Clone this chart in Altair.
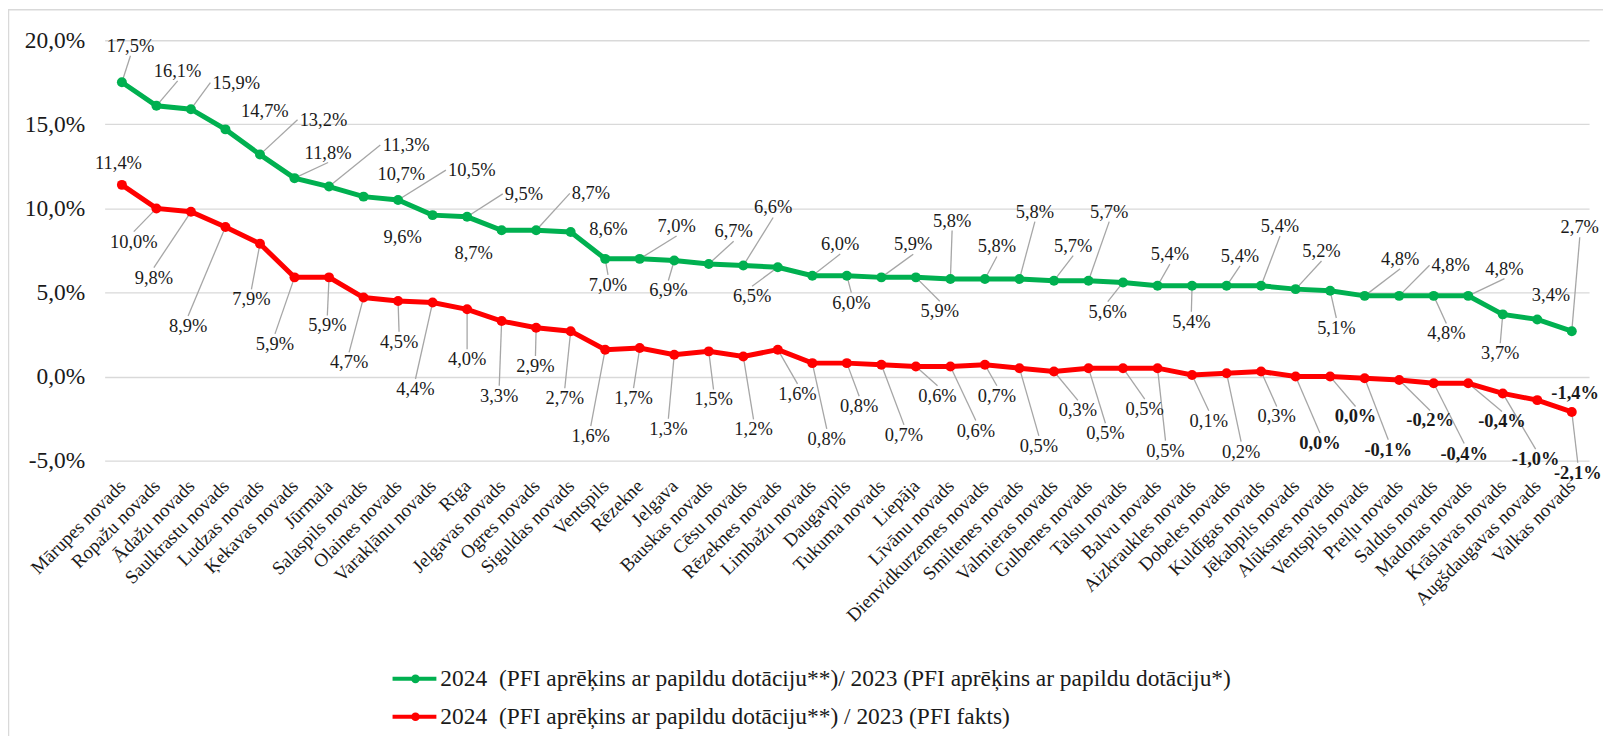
import json
import altair as alt
import pandas as pd

# ---------------- data ----------------
categories = [
    "Mārupes novads", "Ropažu novads", "Ādažu novads", "Saulkrastu novads", "Ludzas novads",
    "Ķekavas novads", "Jūrmala", "Salaspils novads", "Olaines novads", "Varakļānu novads",
    "Rīga", "Jelgavas novads", "Ogres novads", "Siguldas novads", "Ventspils",
    "Rēzekne", "Jelgava", "Bauskas novads", "Cēsu novads", "Rēzeknes novads",
    "Limbažu novads", "Daugavpils", "Tukuma novads", "Liepāja", "Līvānu novads",
    "Dienvidkurzemes novads", "Smiltenes novads", "Valmieras novads", "Gulbenes novads", "Talsu novads",
    "Balvu novads", "Aizkraukles novads", "Dobeles novads", "Kuldīgas novads", "Jēkabpils novads",
    "Alūksnes novads", "Ventspils novads", "Preiļu novads", "Saldus novads", "Madonas novads",
    "Krāslavas novads", "Augšdaugavas novads", "Valkas novads",
]

green_values = [17.5, 16.1, 15.9, 14.7, 13.2, 11.8, 11.3, 10.7, 10.5, 9.6,
                9.5, 8.7, 8.7, 8.6, 7.0, 7.0, 6.9, 6.7, 6.6, 6.5,
                6.0, 6.0, 5.9, 5.9, 5.8, 5.8, 5.8, 5.7, 5.7, 5.6,
                5.4, 5.4, 5.4, 5.4, 5.2, 5.1, 4.8, 4.8, 4.8, 4.8,
                3.7, 3.4, 2.7]

red_values = [11.4, 10.0, 9.8, 8.9, 7.9, 5.9, 5.9, 4.7, 4.5, 4.4,
              4.0, 3.3, 2.9, 2.7, 1.6, 1.7, 1.3, 1.5, 1.2, 1.6,
              0.8, 0.8, 0.7, 0.6, 0.6, 0.7, 0.5, 0.3, 0.5, 0.5,
              0.5, 0.1, 0.2, 0.3, 0.0, 0.0, -0.1, -0.2, -0.4, -0.4,
              -1.0, -1.4, -2.1]

series_names = [
    "2024  (PFI aprēķins ar papildu dotāciju**)/ 2023 (PFI aprēķins ar papildu dotāciju*)",
    "2024  (PFI aprēķins ar papildu dotāciju**) / 2023 (PFI fakts)",
]
series_colors = ["#00B050", "#FF0000"]

# label placement (pixel offsets of each data label from its point)
green_label_dx = [8.6, 21.3, 45.5, 39.6, 63.7, 33.7, 77.5, 37.9, 74, -30,
                  57, -28, 55, 38, 2.8, 37, -5.9, 25, 30, -25.8,
                  28, 4.5, 32, 24, 1.7, 12, 15.5, 19.3, 20.8, -15.3,
                  12.4, -0.7, 13.5, 19, 26, 6.2, 35.7, 51.7, 12.7, 36.4,
                  -2.5, 13.8, 8]
green_label_dy = [-36.7, -35, -26.7, -18.3, -35, -25.7, -41.7, -22.3, -30, 22.3,
                  -23, 23.3, -37, -3, 26, -33, 30, -32.7, -58.3, 29,
                  -31.7, 27, -33.3, 34, -58.7, -32.7, -67.7, -35.3, -69.3, 29.3,
                  -31.7, 36, -30, -60, -38.3, 37.3, -37.3, -30.7, 37.7, -27.3,
                  39, -24, -104.3]
red_label_dx = [-3.4, -22.7, -37.2, -37.5, -8.6, -19.6, -1.7, -14.5, 1, -17.2,
                0, -2.4, -0.7, -5.9, -14.5, -6.2, -5.9, 4.8, 10.3, 19.8,
                14.5, 12.4, 22.7, 21.7, 25.5, 12, 19.5, 24, 17, 21.8,
                8, 16.8, 14.6, 15.7, 24.4, 25.5, 23.7, 31, 30.6, 33.9,
                33, 38, 6]
red_label_dy = [-21.7, 33.3, 66, 99.3, 55.7, 66.7, 48.3, 65, 41, 86.7,
                50, 75, 38.3, 67.3, 86.7, 50.3, 74.3, 48.3, 73.3, 44.3,
                76, 43.3, 70.3, 29.3, 64.3, 31, 78, 39, 65.3, 41,
                82.7, 46, 78.7, 45, 66.7, 40, 71.7, 40.7, 70.5, 38.3,
                66, -6.7, 61]

# ---------------- geometry ----------------
W, H = 1490, 422
X_DOMAIN = [-0.5, len(categories) - 0.5]
Y_DOMAIN = [-5, 20]
PX_X = W / (X_DOMAIN[1] - X_DOMAIN[0])
PX_Y = H / (Y_DOMAIN[1] - Y_DOMAIN[0])
FONT = "Liberation Serif"
TXT = "#1a1a1a"
LABEL_SIZE = 18.5


def fmt(v):
    s = f"{abs(v):.1f}".replace(".", ",") + "%"
    return "-" + s if v < 0 else s


rows = []
for s, vals, dxs, dys in [
    (series_names[0], green_values, green_label_dx, green_label_dy),
    (series_names[1], red_values, red_label_dx, red_label_dy),
]:
    for i, (v, dx, dy) in enumerate(zip(vals, dxs, dys)):
        lab = fmt(v)
        half_w = len(lab) * 4.8
        if abs(dx) >= 40:
            ex = dx - (half_w + 2) * (1 if dx > 0 else -1)
            ey = dy
        else:
            ex = dx
            ey = dy + (10 if dy < 0 else -10)
        rows.append({
            "idx": i,
            "name": categories[i],
            "series": s,
            "value": v,
            "label": lab,
            "lx": i + dx / PX_X,
            "ly": v - dy / PX_Y,
            "ex": i + ex / PX_X,
            "ey": v - ey / PX_Y,
            "leader": bool(abs(dy) >= 25 or abs(dx) >= 50),
            "bold": bool(s == series_names[1] and v <= 0),
        })
df = pd.DataFrame(rows)

names_js = json.dumps(categories, ensure_ascii=False)

x_scale = alt.Scale(domain=X_DOMAIN, nice=False, zero=False)
y_scale = alt.Scale(domain=Y_DOMAIN, nice=False, zero=False)
x_axis = alt.Axis(
    values=list(range(len(categories))),
    labelExpr=f"{names_js}[datum.value]",
    labelAngle=-45, labelAlign="right", labelBaseline="middle",
    labelFont=FONT, labelFontSize=19, labelColor=TXT, labelPadding=22,
    labelOverlap=False, labelFlush=False, labelBound=False, labelLimit=500,
    grid=False, domain=False, ticks=False, tickSize=0, title=None,
)
y_axis = alt.Axis(
    values=[-5, 0, 5, 10, 15, 20],
    labelExpr="(datum.value<0?'-':'')+replace(format(abs(datum.value),'.1f'),'.',',')+'%'",
    labelFont=FONT, labelFontSize=23.5, labelColor=TXT, labelPadding=20,
    grid=True, gridColor="#D9D9D9", gridWidth=1.3,
    domain=False, ticks=False, tickSize=0, title=None,
)


def X(f):
    return alt.X(f"{f}:Q", scale=x_scale, axis=x_axis)


def Y(f):
    return alt.Y(f"{f}:Q", scale=y_scale, axis=y_axis)


color = alt.Color("series:N", scale=alt.Scale(domain=series_names, range=series_colors), legend=None)

base = alt.Chart(df)

frame = alt.Chart(pd.DataFrame({"f": [0]})).mark_rect(
    fillOpacity=0, stroke="#D9D9D9", strokeWidth=1.5
).encode(x=alt.value(-96.5), x2=alt.value(3000), y=alt.value(-30.5), y2=alt.value(3000))

leaders = base.transform_filter("datum.leader").mark_rule(
    color="#A6A6A6", strokeWidth=1.3
).encode(x=X("idx"), y=Y("value"), x2="ex:Q", y2="ey:Q")

lines = base.mark_line(strokeWidth=5).encode(x=X("idx"), y=Y("value"), color=color)
points = base.mark_circle(size=100, opacity=1).encode(x=X("idx"), y=Y("value"), color=color)

texts = base.transform_filter("!datum.bold").mark_text(
    font=FONT, fontSize=LABEL_SIZE, color=TXT
).encode(x=X("lx"), y=Y("ly"), text="label:N")
texts_bold = base.transform_filter("datum.bold").mark_text(
    font=FONT, fontSize=LABEL_SIZE, color=TXT, fontWeight="bold"
).encode(x=X("lx"), y=Y("ly"), text="label:N")

# legend (custom, below the chart)
leg_df = pd.DataFrame({
    "series": series_names,
    "row": [0, 1],
    "text": [n.replace("  ", "\u00a0 ") for n in series_names],
})
legend_layers = []
for r in range(2):
    yy = 641 + 38 * r
    lb = alt.Chart(leg_df).transform_filter(f"datum.row == {r}")
    legend_layers.append(lb.mark_rule(strokeWidth=4).encode(
        x=alt.value(289), x2=alt.value(333), y=alt.value(yy), color=color))
    legend_layers.append(lb.mark_circle(size=75, opacity=1).encode(
        x=alt.value(312), y=alt.value(yy), color=color))
    legend_layers.append(lb.mark_text(
        font=FONT, fontSize=23.5, color=TXT, align="left", baseline="middle"
    ).encode(x=alt.value(337), y=alt.value(yy), text="text:N"))

chart = alt.layer(
    frame, leaders, lines, points, texts, texts_bold, *legend_layers
).properties(
    width=W, height=H,
    autosize=alt.AutoSizeParams(type="none"),
    padding={"left": 97, "top": 31, "right": 14, "bottom": 275},
).configure_view(stroke=None).configure_axis(labelFont=FONT)

chart.save("out.html", embed_options={"renderer": "svg", "actions": False})
